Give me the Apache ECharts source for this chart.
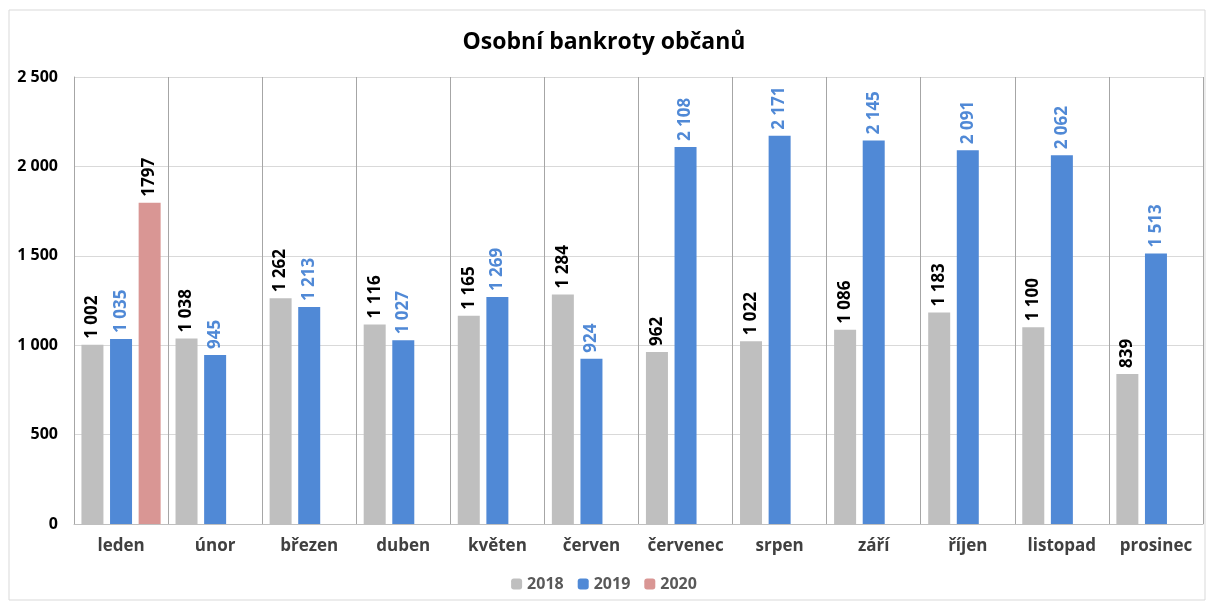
<!DOCTYPE html>
<html>
<head>
<meta charset="utf-8">
<script src="https://cdn.jsdelivr.net/npm/echarts@6/dist/echarts.min.js"></script>
<style>
  html, body { margin: 0; padding: 0; background: #fff; }
  #main { width: 1208px; height: 602px; }
</style>
</head>
<body>
<div id="main"></div>
<script>
var months = ['leden', 'únor', 'březen', 'duben', 'květen', 'červen', 'červenec', 'srpen', 'září', 'říjen', 'listopad', 'prosinec'];
var y2018 = [1002, 1038, 1262, 1116, 1165, 1284, 962, 1022, 1086, 1183, 1100, 839];
var y2019 = [1035, 945, 1213, 1027, 1269, 924, 2108, 2171, 2145, 2091, 2062, 1513];
var y2020 = [1797, null, null, null, null, null, null, null, null, null, null, null];
var yTicks = [0, 500, 1000, 1500, 2000, 2500];

var FONT = '"Open Sans", "DejaVu Sans", sans-serif';

// mezera jako oddělovač tisíců
function fmt(v) {
    return String(v).replace(/\B(?=(\d{3})+(?!\d))/g, ' ');
}

var myChart = echarts.init(document.getElementById('main'));

function barLabel(color, spaced) {
    return {
        show: true,
        position: 'top',
        rotate: 90,
        align: 'left',
        verticalAlign: 'middle',
        distance: 6,
        color: color,
        fontFamily: FONT,
        fontWeight: 'bold',
        fontSize: 17,
        formatter: function (p) { return spaced ? fmt(p.value) : String(p.value); }
    };
}

var option = {
    animation: false,
    backgroundColor: '#fff',
    textStyle: { fontFamily: FONT },
    graphic: [{
        type: 'rect',
        shape: { x: 9, y: 10, width: 1196, height: 590 },
        style: { fill: 'none', stroke: '#d9d9d9', lineWidth: 1 },
        silent: true
    }],
    title: {
        text: 'Osobní bankroty občanů',
        left: 'center',
        top: 26,
        textStyle: { fontFamily: FONT, fontWeight: 'bold', fontSize: 23, color: '#000' }
    },
    legend: {
        bottom: 5,
        left: 'center',
        itemWidth: 11,
        itemHeight: 11,
        itemGap: 14,
        data: ['2018', '2019', '2020'],
        textStyle: { fontFamily: FONT, fontWeight: 'bold', fontSize: 16, color: '#595959' }
    },
    grid: { left: 74, right: 5, top: 77, bottom: 78, containLabel: false },
    xAxis: {
        type: 'category',
        data: months,
        axisLine: { show: true, lineStyle: { color: '#bfbfbf' } },
        axisTick: { show: false },
        splitLine: { show: true, interval: 0, lineStyle: { color: '#a6a6a6', width: 1 } },
        axisLabel: { interval: 0, margin: 14, fontFamily: FONT, fontWeight: 'bold', fontSize: 17, color: '#404040' }
    },
    yAxis: {
        type: 'value',
        min: yTicks[0],
        max: yTicks[yTicks.length - 1],
        interval: 500,
        axisLine: { show: true, lineStyle: { color: '#a6a6a6' } },
        axisTick: { show: false },
        splitLine: { lineStyle: { color: '#d9d9d9' } },
        axisLabel: {
            margin: 16,
            fontFamily: FONT, fontWeight: 'bold', fontSize: 16, color: '#000',
            formatter: function (v) { return fmt(v); }
        }
    },
    series: [
        {
            name: '2018', type: 'bar', data: y2018,
            barWidth: 22, barGap: '30%',
            itemStyle: { color: '#bfbfbf' },
            label: barLabel('#000', true)
        },
        {
            name: '2019', type: 'bar', data: y2019,
            barWidth: 22,
            itemStyle: { color: '#5089d6' },
            label: barLabel('#5089d6', true)
        },
        {
            name: '2020', type: 'bar', data: y2020,
            barWidth: 22,
            itemStyle: { color: '#d99694' },
            label: barLabel('#000', false)
        }
    ]
};

myChart.setOption(option);
</script>
</body>
</html>
